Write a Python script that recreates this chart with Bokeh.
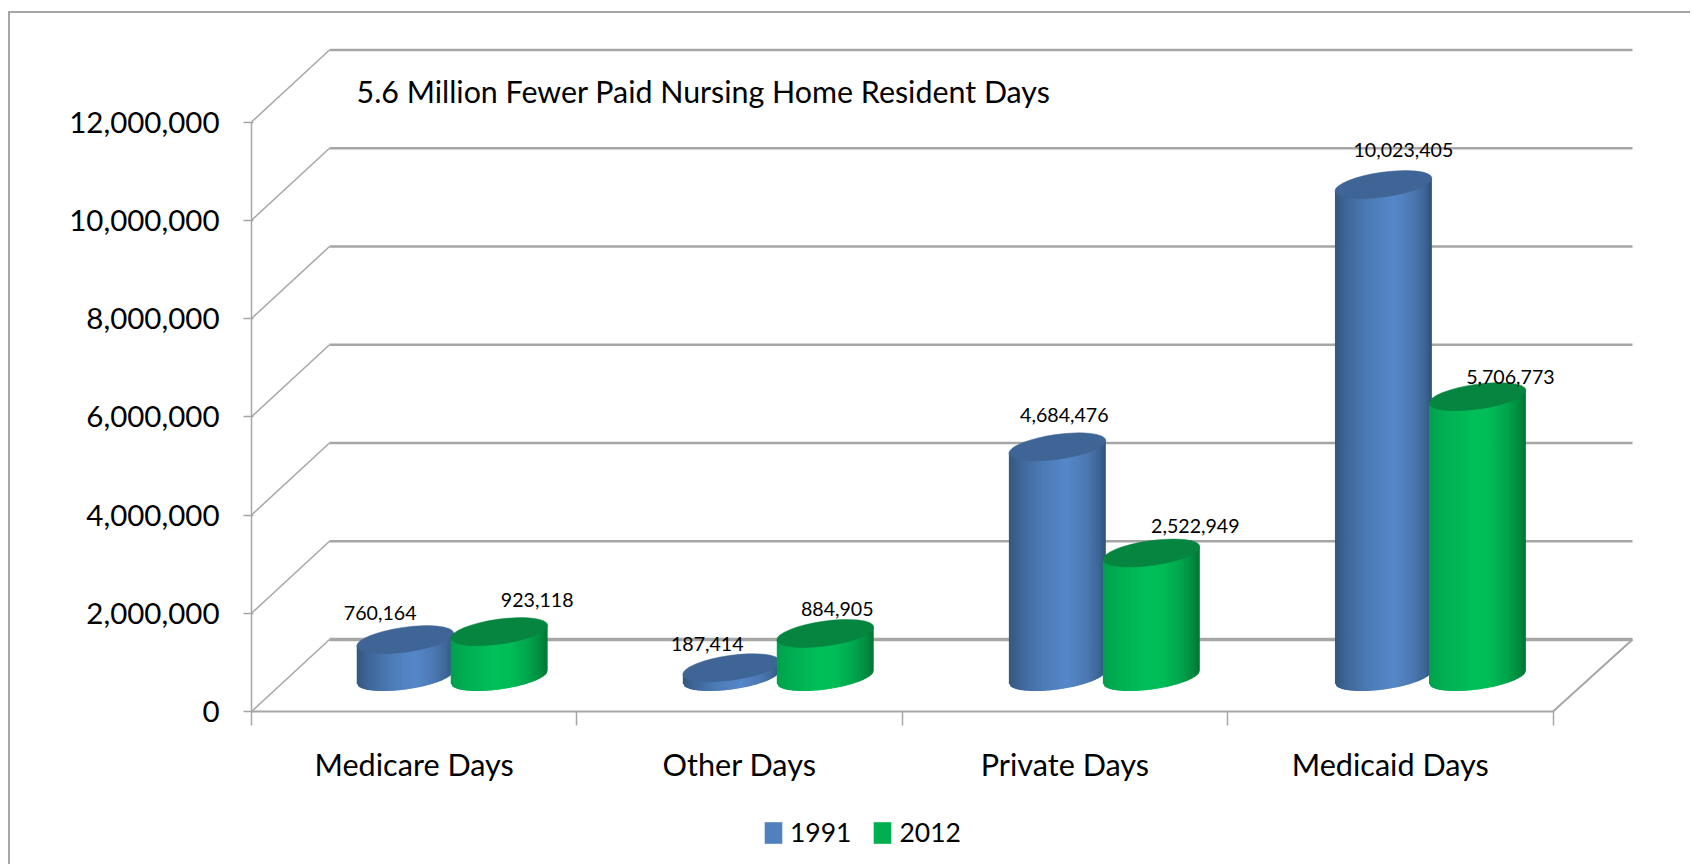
from math import cos, sin, radians, sqrt
from bokeh.plotting import figure
from bokeh.embed import file_html
from bokeh.resources import INLINE
from bokeh.core.properties import value
from bokeh.models import (FixedTicker, Legend, LegendItem, Label,
                          NumeralTickFormatter, ColumnDataSource)

categories = ["Medicare Days", "Other Days", "Private Days", "Medicaid Days"]
series_1991 = [760164, 187414, 4684476, 10023405]
series_2012 = [923118, 884905, 2522949, 5706773]
y_ticks = [0, 2000000, 4000000, 6000000, 8000000, 10000000, 12000000]
chart_title = "5.6 Million Fewer Paid Nursing Home Resident Days"

FONT = "Lato"
GREY = "#a6a6a6"

# layout (px); the canvas starts at (10, 13) on the page
W, H = 1682, 853
ORIGIN_X, ORIGIN_Y = 241, 698               # where category 0 / value 0 fall on the canvas
front_w = 1301.5                            # width of the 4 category slots
front_h = 589.5                             # height of 0..12M
px_x = front_w / 4.0                        # px per category
px_y = front_h / 12000000.0                 # px per value unit
depth_x = 78.0 / px_x
depth_y = 72.0 / px_y
back_extra = 1.5 / px_x
bar_dx = 47.0 / px_x
base_x = 38.0 / px_x
base_y = 34.5 / px_y
nudge = 0.7 / px_x                          # slight perspective drift per category

p = figure(width=W, height=H, output_backend="svg", toolbar_location=None,
           x_range=(-ORIGIN_X / px_x, (W - ORIGIN_X) / px_x),
           y_range=(-(H - ORIGIN_Y) / px_y, ORIGIN_Y / px_y),
           min_border_left=0, min_border_right=0, min_border_top=0, min_border_bottom=0,
           background_fill_color="white", border_fill_color="white", outline_line_color=None,
           margin=(11, 0, 0, 8),
           styles={"border-left": "2px solid #a6a6a6", "border-top": "2px solid #a6a6a6"})
p.grid.visible = False

# axes
ya = p.yaxis[0]
ya.fixed_location = 0
ya.ticker = FixedTicker(ticks=y_ticks)
ya.bounds = (0, 12000000)
ya.formatter = NumeralTickFormatter(format="0,0")
ya.major_label_text_font = FONT
ya.major_label_text_font_size = "29.5px"
ya.major_label_text_color = "#000000"
ya.major_label_standoff = 24
ya.major_tick_out = 8
ya.major_tick_in = 2
ya.minor_tick_line_color = None
ya.axis_line_color = GREY
ya.axis_line_width = 1.5
ya.major_tick_line_color = GREY
ya.major_tick_line_width = 1.5

xa = p.xaxis[0]
xa.fixed_location = 0
xa.ticker = FixedTicker(ticks=[0.5, 1.5, 2.5, 3.5], minor_ticks=[0, 1, 2, 3, 4])
xa.major_label_overrides = {i + 0.5: c for i, c in enumerate(categories)}
xa.bounds = (0, 4)
xa.major_tick_line_color = None
xa.major_tick_out = 0
xa.minor_tick_out = 14
xa.minor_tick_in = 0
xa.minor_tick_line_color = GREY
xa.minor_tick_line_width = 1.5
xa.axis_line_color = GREY
xa.axis_line_width = 2
xa.major_label_text_font = FONT
xa.major_label_text_font_size = "30.6px"
xa.major_label_text_color = "#000000"
xa.major_label_standoff = 20

# walls
p.segment(x0=[depth_x] * 6, x1=[4 + depth_x + back_extra] * 6,
          y0=[t + depth_y for t in y_ticks[1:]], y1=[t + depth_y for t in y_ticks[1:]],
          line_color=GREY, line_width=2.4)
p.segment(x0=[depth_x], x1=[4 + depth_x + back_extra], y0=[depth_y], y1=[depth_y], line_color=GREY, line_width=3.5)
p.segment(x0=[0] * 7, x1=[depth_x] * 7, y0=y_ticks, y1=[t + depth_y for t in y_ticks],
          line_color=GREY, line_width=1.5)
p.segment(x0=[4], x1=[4 + depth_x + back_extra], y0=[0], y1=[depth_y], line_color=GREY, line_width=2)

# cylinders
ANGLE = radians(8)
A, B = 48.9, 12.4     # ellipse semi axes, px
X_EXT = sqrt((A * cos(ANGLE)) ** 2 + (B * sin(ANGLE)) ** 2)
K = (A * A - B * B) * sin(ANGLE) * cos(ANGLE) / (X_EXT * X_EXT)
HH = A * B / X_EXT
N = 64

blue_stops = [(0, "#33587f"), (0.12, "#3f6699"), (0.35, "#4c7cb6"), (0.6, "#5687c9"),
              (0.8, "#4c78b2"), (0.93, "#3d6596"), (1, "#2f5078")]
green_stops = [(0, "#00a14c"), (0.15, "#00ae52"), (0.45, "#00bf59"), (0.62, "#00bc57"),
               (0.8, "#00a54c"), (0.93, "#008a3f"), (1, "#007334")]


def hex2rgb(h):
    return [int(h[i:i + 2], 16) for i in (1, 3, 5)]


def shade(stops, f):
    for (f0, c0), (f1, c1) in zip(stops, stops[1:]):
        if f <= f1:
            t = (f - f0) / (f1 - f0)
            r = [round(a + (b - a) * t) for a, b in zip(hex2rgb(c0), hex2rgb(c1))]
            return "#%02x%02x%02x" % tuple(r)
    return stops[-1][1]


def cylinder(cx, val, stops, top_color):
    xs, ys, colors = [], [], []
    for i in range(N):
        f0, f1 = i / N, (i + 1.5) / N
        f1 = min(f1, 1.0)
        u0, u1 = -X_EXT + 2 * X_EXT * f0, -X_EXT + 2 * X_EXT * f1
        low0 = K * u0 - HH * sqrt(max(0, 1 - (u0 / X_EXT) ** 2))
        low1 = K * u1 - HH * sqrt(max(0, 1 - (u1 / X_EXT) ** 2))
        xa0, xa1 = cx + u0 / px_x, cx + u1 / px_x
        top0 = val + base_y + K * u0 / px_y
        top1 = val + base_y + K * u1 / px_y
        xs.append([xa0, xa1, xa1, xa0])
        ys.append([base_y + low0 / px_y, base_y + low1 / px_y, top1, top0])
        colors.append(shade(stops, (f0 + (i + 1) / N) / 2))
    p.patches(xs, ys, fill_color=colors, line_color=None)
    p.ellipse(x=[cx], y=[val + base_y], width=[2 * A], height=[2 * B], angle=[ANGLE],
              width_units="screen", height_units="screen",
              fill_color=top_color, line_color=top_color, line_width=0.5)


centers_1991, centers_2012 = [], []
for i in range(4):
    c = i + 0.5 + base_x + i * nudge
    centers_1991.append(c - bar_dx)
    centers_2012.append(c + bar_dx)
    cylinder(centers_1991[i], series_1991[i], blue_stops, "#3e6595")
    cylinder(centers_2012[i], series_2012[i], green_stops, "#05853f")

# data labels
lab_dx_1991 = [-25, -24, 7, 20]
lab_dy_1991 = [27, 24, 32, 35]
lab_dx_2012 = [38, 12, 44, 33]
lab_dy_2012 = [32, 25, 27, 20]
src = ColumnDataSource(dict(
    x=centers_1991 + centers_2012,
    y=[v + base_y for v in series_1991 + series_2012],
    t=["{:,}".format(v) for v in series_1991 + series_2012],
    dx=lab_dx_1991 + lab_dx_2012,
    dy=[-d for d in lab_dy_1991 + lab_dy_2012]))
p.text(x="x", y="y", text="t", x_offset="dx", y_offset="dy", source=src,
       text_font=value(FONT), text_font_size="19.6px", text_color="#000000",
       text_align="center", text_baseline="middle")

# title
p.add_layout(Label(x=(356 - 251) / px_x, y=(711 - 90) / px_y, text=chart_title,
                   text_font=FONT, text_font_size="30.4px", text_color="#000000",
                   text_baseline="middle", text_align="left"))

# legend: the swatch renderers hold one zero-size box so that their colours resolve
r1 = p.quad(left=[0], right=[0], top=[0], bottom=[0], fill_color="#4f81bd", line_color=None)
r2 = p.quad(left=[0], right=[0], top=[0], bottom=[0], fill_color="#00b050", line_color=None)
legend = Legend(items=[LegendItem(label="1991", renderers=[r1]), LegendItem(label="2012", renderers=[r2])],
                orientation="horizontal", location=(752, 18),
                glyph_width=22, glyph_height=27, label_standoff=6, spacing=20,
                padding=0, margin=0, background_fill_alpha=0, border_line_color=None,
                label_text_font=FONT, label_text_font_size="26.5px", label_text_color="#000000")
p.add_layout(legend, "center")

open("out.html", "w").write(file_html(p, INLINE))
